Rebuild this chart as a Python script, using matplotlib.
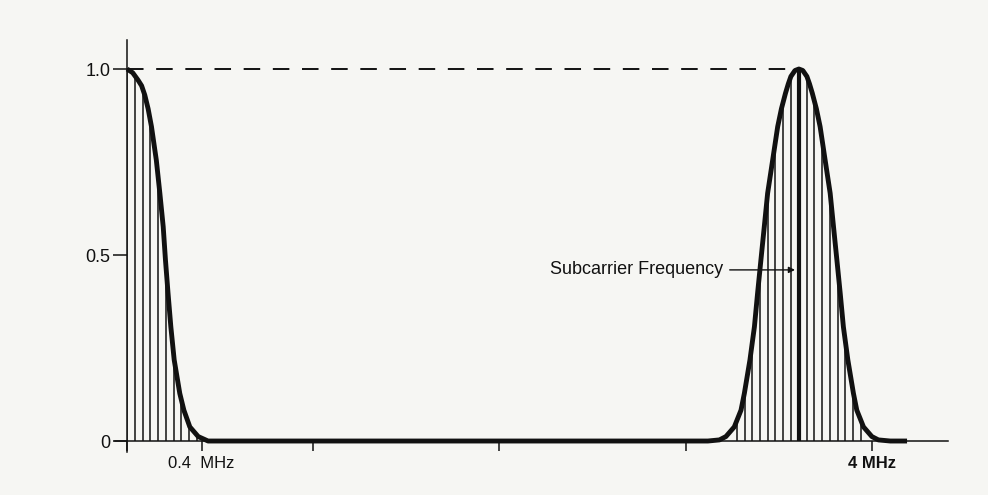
import numpy as np
import matplotlib
matplotlib.use("Agg")
import matplotlib.pyplot as plt

plt.rcParams['font.family'] = ['Liberation Sans', 'DejaVu Sans']

# luminance band (MHz, relative amplitude)
freq_luma = [0.0, 0.030, 0.059, 0.078, 0.095, 0.113, 0.131, 0.157, 0.176,
             0.194, 0.206, 0.220, 0.235, 0.253, 0.283, 0.305, 0.337, 0.382,
             0.435]
amp_luma = [1.0, 0.990, 0.970, 0.955, 0.930, 0.893, 0.845, 0.755, 0.666,
            0.576, 0.487, 0.397, 0.307, 0.218, 0.128, 0.083, 0.038, 0.012,
            0.0]

# chrominance band around the subcarrier
freq_chroma = [3.120, 3.182, 3.217, 3.262, 3.298, 3.316, 3.346, 3.370, 3.387,
               3.405, 3.423, 3.441, 3.468, 3.495, 3.515, 3.537, 3.552, 3.566,
               3.588, 3.609, 3.630, 3.652, 3.666, 3.681, 3.703, 3.723, 3.750,
               3.777, 3.795, 3.813, 3.831, 3.848, 3.872, 3.902, 3.920, 3.956,
               4.001, 4.036, 4.100, 4.190]
amp_chroma = [0.0, 0.003, 0.012, 0.038, 0.083, 0.128, 0.218, 0.307, 0.397,
              0.487, 0.576, 0.666, 0.755, 0.845, 0.893, 0.935, 0.960, 0.980,
              0.996, 1.0, 0.996, 0.980, 0.960, 0.935, 0.893, 0.845, 0.755,
              0.666, 0.576, 0.487, 0.397, 0.307, 0.218, 0.128, 0.083, 0.038,
              0.012, 0.003, 0.0, 0.0]

freq = freq_luma + freq_chroma
amp = amp_luma + amp_chroma

# line-rate harmonics drawn as vertical strokes under the envelope
harm_low = [0.0, 0.042, 0.083, 0.125, 0.167, 0.208, 0.25, 0.292, 0.333, 0.375]
harm_sub = [3.275, 3.317, 3.358, 3.400, 3.442, 3.483, 3.525, 3.567, 3.608,
            3.650, 3.692, 3.733, 3.775, 3.817, 3.858, 3.900, 3.942]
subcarrier = 3.608
ref_level = 1.0

xticks = [0, 0.4, 1, 2, 3, 4]
xticklabels = ['', '0.4  MHz', '', '', '', '4 MHz']
yticks = [0, 0.5, 1.0]
yticklabels = ['0', '0.5', '1.0']

ink = '#111111'
paper = '#f6f6f3'

fig = plt.figure(figsize=(9.88, 4.95), dpi=100, facecolor=paper)
ax = fig.add_axes([115 / 988, 0.0865, 833 / 988, 0.8327])
ax.set_facecolor(paper)
ax.set_xlim(-0.065, 4.41)
ax.set_ylim(-0.03, 1.078)

for side in ['top', 'right']:
    ax.spines[side].set_visible(False)
ax.spines['left'].set_position(('data', 0))
ax.spines['bottom'].set_position(('data', 0))
for side in ['left', 'bottom']:
    ax.spines[side].set_linewidth(1.1)
    ax.spines[side].set_color(ink)

# envelope area used only as a clip region for the strokes
env = ax.fill_between(freq, amp, 0, facecolor='none', edgecolor='none')
clip = env.get_paths()[0]

lines = ax.vlines(harm_low + harm_sub, 0, 1.05, color=ink, lw=1.1)
lines.set_clip_path(clip, ax.transData)
sub = ax.vlines([subcarrier], 0, 1.05, color=ink, lw=3.0)
sub.set_clip_path(clip, ax.transData)

ax.plot(freq, amp, color=ink, lw=3.5, solid_capstyle='butt', solid_joinstyle='round')

ax.hlines(ref_level, 0, subcarrier - 0.05, color=ink, lw=1.4,
          linestyles=(0, (8.5, 6.5)))

ax.annotate('Subcarrier Frequency', xy=(subcarrier - 0.02, 0.46),
            xytext=(3.2, 0.46), ha='right', va='center', fontsize=13,
            color=ink,
            arrowprops=dict(arrowstyle='-|>', color=ink, lw=1.0,
                            mutation_scale=9, shrinkA=3, shrinkB=0))

ax.set_xticks(xticks)
ax.set_xticklabels(xticklabels, fontsize=12, color=ink)
ax.get_xticklabels()[-1].set_fontweight('bold')
ax.set_yticks(yticks)
ax.set_yticklabels(yticklabels, fontsize=13, color=ink)
ax.tick_params(axis='x', direction='out', length=7, width=1.1, pad=3.5, color=ink)
ax.tick_params(axis='y', direction='out', length=10, width=1.1, pad=2, color=ink)

fig.savefig('out.png', dpi=100, facecolor=paper)
